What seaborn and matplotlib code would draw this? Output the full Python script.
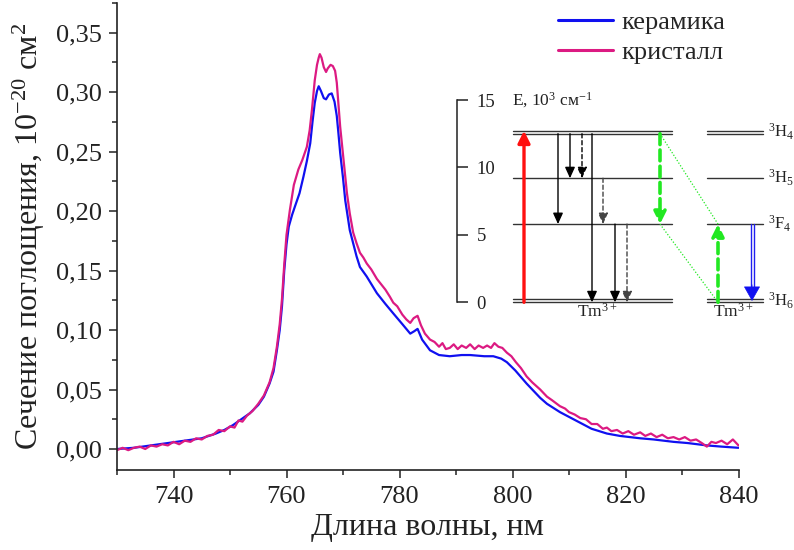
import numpy as np
import pandas as pd
import matplotlib
matplotlib.use("Agg")
import matplotlib.pyplot as plt
import seaborn as sns
from matplotlib.ticker import MultipleLocator, FuncFormatter

# ---------------- data ----------------
ceramic_nm = [730, 733, 736, 739, 742, 745, 747.5, 749, 750.5, 752, 753.5, 755, 756, 757, 757.7,
              758.3, 758.8, 759.2, 759.6, 760.0, 760.4, 761.0, 761.5, 762.3, 763.0, 763.6, 764.2,
              764.6, 765.0, 765.4, 765.7, 766.1, 766.6, 767.0, 767.5, 768.0, 768.5, 768.9, 769.2,
              769.5, 770.0, 770.4, 771.2, 772.4, 773.0, 774.2, 776.0, 777.5, 778.9, 780.5, 781.9,
              782.6, 783.2, 784.0, 785.4, 787.0, 788.9, 791, 792.5, 795, 796.6, 798, 799.0, 800.5,
              802.5, 804.9, 806.1, 808.4, 810, 812.0, 814, 816.7, 819, 822.6, 825, 828.5, 831,
              834.4, 837, 840]
ceramic_val = [0.000, 0.001, 0.003, 0.005, 0.007, 0.009, 0.013, 0.016, 0.020, 0.025, 0.030, 0.037,
               0.044, 0.055, 0.065, 0.083, 0.100, 0.120, 0.150, 0.172, 0.187, 0.197, 0.204, 0.215,
               0.229, 0.242, 0.257, 0.275, 0.291, 0.301, 0.305, 0.301, 0.295, 0.294, 0.298, 0.299,
               0.292, 0.280, 0.265, 0.249, 0.228, 0.209, 0.184, 0.162, 0.153, 0.145, 0.131, 0.122,
               0.114, 0.105, 0.097, 0.099, 0.101, 0.092, 0.083, 0.079, 0.078, 0.079, 0.079, 0.078,
               0.078, 0.076, 0.073, 0.066, 0.055, 0.043, 0.038, 0.031, 0.027, 0.022, 0.017, 0.013,
               0.011, 0.009, 0.008, 0.006, 0.005, 0.003, 0.002, 0.001]

crystal_nm = [730, 731, 732, 733, 734, 735, 736, 737, 738, 739, 740, 741, 742, 743, 744, 745, 746,
              747, 748, 749, 750, 750.8, 751.5, 752.2, 753, 754, 755, 756, 757, 757.7, 758.3, 758.8,
              759.2, 759.6, 760.0, 760.6, 761.3, 762.1, 762.8, 763.6, 764.1, 764.5, 765.0, 765.4,
              765.7, 765.9, 766.2, 766.6, 767.0, 767.3, 767.8, 768.2, 768.6, 768.9, 769.2, 769.5,
              770.1, 770.7, 771.2, 771.8, 772.4, 773.0, 773.6, 774.2, 775, 776, 776.5, 777.5, 778.3,
              778.9, 779.6, 780.5, 781.2, 781.9, 782.5, 783.2, 783.8, 784.5, 785.4, 786.2, 787,
              787.6, 788.2, 788.9, 789.6, 790.3, 791, 791.8, 792.5, 793.3, 794, 794.8, 795.5, 796.2,
              796.8, 797.5, 798.2, 799, 799.8, 800.6, 801.5, 802.5, 803.5, 804.9, 806.1, 807, 808.4,
              809.3, 810, 811, 812, 813, 814, 815, 816, 816.7, 817.5, 818.5, 819.5, 820.5, 821.5,
              822.6, 823.5, 824.5, 825.5, 826.5, 827.5, 828.5, 829.5, 830.5, 831.5, 832.5, 833.5,
              834.4, 835.2, 836, 837, 838, 839, 840]
crystal_val = [-0.001, 0.001, -0.001, 0.001, 0.002, 0.000, 0.003, 0.002, 0.004, 0.003, 0.006, 0.004,
               0.007, 0.006, 0.009, 0.008, 0.011, 0.012, 0.016, 0.015, 0.019, 0.018, 0.024, 0.023,
               0.028, 0.032, 0.038, 0.045, 0.056, 0.068, 0.086, 0.105, 0.126, 0.155, 0.180, 0.201,
               0.222, 0.235, 0.243, 0.254, 0.268, 0.285, 0.310, 0.323, 0.329, 0.332, 0.329, 0.321,
               0.317, 0.320, 0.323, 0.322, 0.318, 0.308, 0.290, 0.271, 0.243, 0.215, 0.198, 0.182,
               0.173, 0.165, 0.161, 0.156, 0.151, 0.143, 0.140, 0.134, 0.128, 0.123, 0.120, 0.113,
               0.109, 0.106, 0.110, 0.112, 0.104, 0.097, 0.092, 0.090, 0.086, 0.089, 0.084, 0.085,
               0.088, 0.084, 0.087, 0.085, 0.088, 0.084, 0.087, 0.085, 0.087, 0.085, 0.089, 0.086,
               0.085, 0.081, 0.078, 0.073, 0.068, 0.061, 0.056, 0.050, 0.044, 0.041, 0.036, 0.034,
               0.031, 0.029, 0.026, 0.025, 0.021, 0.021, 0.017, 0.018, 0.015, 0.016, 0.013, 0.015,
               0.012, 0.014, 0.011, 0.013, 0.010, 0.012, 0.009, 0.010, 0.008, 0.010, 0.007, 0.008,
               0.005, 0.002, 0.006, 0.005, 0.007, 0.004, 0.008, 0.003]

series_names = ["керамика", "кристалл"]
series_colors = ["#1010F0", "#DC1A82"]

x_ticks = [740, 760, 780, 800, 820, 840]
y_ticks = [0.00, 0.05, 0.10, 0.15, 0.20, 0.25, 0.30, 0.35]

# energy level diagram (10^3 cm^-1)
levels = {"3H4": [12.5, 12.72], "3H5": [9.2], "3F4": [5.8], "3H6": [0.0, 0.22]}
level_labels = {"3H4": "$^3$H$_4$", "3H5": "$^3$H$_5$", "3F4": "$^3$F$_4$", "3H6": "$^3$H$_6$"}
E_ticks = [0, 5, 10, 15]

# ---------------- style ----------------
sns.set_theme(style="ticks")
plt.rcParams["font.family"] = ["Liberation Serif", "DejaVu Serif"]
plt.rcParams["mathtext.fontset"] = "custom"
plt.rcParams["mathtext.rm"] = "Liberation Serif"
plt.rcParams["mathtext.it"] = "Liberation Serif:italic"
plt.rcParams["mathtext.bf"] = "Liberation Serif:bold"

fig = plt.figure(figsize=(7.94, 5.5), dpi=100)
fig.patch.set_facecolor("white")
ax = fig.add_axes([117 / 794, 1 - 470.4 / 550, (738.5 - 117) / 794, (470.4 - 3) / 550])

df = pd.concat([
    pd.DataFrame({"nm": ceramic_nm, "val": ceramic_val, "s": series_names[0]}),
    pd.DataFrame({"nm": crystal_nm, "val": crystal_val, "s": series_names[1]}),
], ignore_index=True)

sns.lineplot(data=df, x="nm", y="val", hue="s", palette=dict(zip(series_names, series_colors)),
             hue_order=series_names, sort=False, estimator=None, linewidth=1.6, ax=ax)

ax.set_xlim(730, 840)
ax.set_ylim(-0.018, 0.375)
ax.set_xticks(x_ticks)
ax.set_yticks(y_ticks)
ax.xaxis.set_minor_locator(MultipleLocator(10))
ax.yaxis.set_minor_locator(MultipleLocator(0.025))
ax.yaxis.set_major_formatter(FuncFormatter(lambda v, p: f"{v:.2f}".replace(".", ",")))
ax.tick_params(axis="both", which="major", direction="out", length=6, width=1.1,
               labelsize=19, color="#222222", labelcolor="#222222", pad=5)
ax.tick_params(axis="both", which="minor", direction="out", length=3.5, width=1.1, color="#222222")
for s in ["top", "right"]:
    ax.spines[s].set_visible(False)
for s in ["left", "bottom"]:
    ax.spines[s].set_linewidth(1.2)
    ax.spines[s].set_color("#222222")
ax.set_facecolor("white")

ax.set_xlabel("Длина волны, нм", fontsize=23, color="#222222", labelpad=4)
ax.set_ylabel("Сечение поглощения, 10$^{-20}$ см$^{2}$", fontsize=23, color="#222222", labelpad=6)

leg = ax.legend(loc="upper left", bbox_to_anchor=(558 / 794, 1 - 11 / 550),
                bbox_transform=fig.transFigure, frameon=False, fontsize=19,
                handlelength=2.1, handletextpad=0.3, labelspacing=0.22, borderaxespad=0,
                borderpad=0)
for line in leg.get_lines():
    line.set_linewidth(2.2)

# ---------------- inset: energy levels ----------------
ins = fig.add_axes([457 / 794, 1 - 302.3 / 550, (794 - 457) / 794, 202.3 / 550])
ins.set_xlim(0, 337)
ins.set_ylim(0, 15)
ins.patch.set_alpha(0)
for s in ["top", "right", "bottom"]:
    ins.spines[s].set_visible(False)
ins.spines["left"].set_linewidth(1.1)
ins.spines["left"].set_color("#222222")
ins.set_xticks([])
ins.set_yticks(E_ticks)
ins.tick_params(axis="y", direction="in", length=8, width=1.1, pad=-14, labelsize=13.5,
                color="#222222", labelcolor="#222222")
for lab in ins.get_yticklabels():
    lab.set_horizontalalignment("left")
ins.text(55, 15, "E, 10$^3$ см$^{-1}$", fontsize=12.5, va="center", ha="left", color="#222222")

lvl_col = "#333333"
for key, es in levels.items():
    for e in es:
        ins.plot([56, 215], [e, e], color=lvl_col, lw=1.0, clip_on=False)
        ins.plot([250, 306], [e, e], color=lvl_col, lw=1.0, clip_on=False)
    ins.text(311, np.mean(es), level_labels[key], fontsize=12, va="center", ha="left",
             color="#222222", clip_on=False)

ins.text(140, -0.7, "Tm$^{3+}$", fontsize=12.5, ha="center", va="center", color="#222222")
ins.text(276, -0.7, "Tm$^{3+}$", fontsize=12.5, ha="center", va="center", color="#222222")

E4, E5, F4, G = levels["3H4"][0], levels["3H5"][0], levels["3F4"][0], levels["3H6"][0]


def arrow(x, y0, y1, color="black", lw=1.0, ls="-", hw=0.25, hl=0.55):
    ins.annotate("", xy=(x, y1), xytext=(x, y0),
                 arrowprops=dict(arrowstyle=f"-|>,head_width={hw},head_length={hl}",
                                 color=color, lw=lw, linestyle=ls, shrinkA=0, shrinkB=0),
                 annotation_clip=False)


arrow(67, G, levels["3H4"][1], color="#FF1010", lw=2.4, hw=0.3, hl=0.6)
arrow(101, E4, F4)
arrow(113, E4, E5)
arrow(125, E4, E5, ls=(0, (3, 2)))
arrow(135, E4, G)
arrow(146, E5, F4, ls=(0, (3, 2)), color="#444444")
arrow(158, F4, G)
arrow(170, F4, G, ls=(0, (3, 2)), color="#444444")
arrow(203, E4, F4, color="#22E822", lw=2.6, ls=(0, (3, 1.5)), hw=0.3, hl=0.6)
arrow(261, G, F4, color="#22E822", lw=2.6, ls=(0, (3, 1.5)), hw=0.3, hl=0.6)
ins.plot([203, 261], [E4, F4], color="#22E822", lw=0.9, ls=(0, (1, 1.5)), clip_on=False)
ins.plot([203, 261], [F4, G], color="#22E822", lw=0.9, ls=(0, (1, 1.5)), clip_on=False)
# blue double-line arrow
ins.plot([293.5, 293.5], [F4, 0.9], color="#2020F0", lw=1.0, clip_on=False)
ins.plot([296.5, 296.5], [F4, 0.9], color="#2020F0", lw=1.0, clip_on=False)
arrow(295, 1.3, G + 0.1, color="#1010F0", lw=0.5, hw=0.45, hl=0.8)

fig.savefig("out.png", dpi=100, facecolor="white")
